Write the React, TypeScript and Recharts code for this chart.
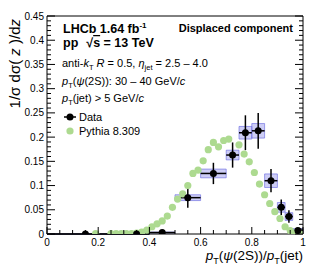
import React from "react";
import {
  ComposedChart,
  XAxis,
  YAxis,
  Scatter,
  ErrorBar,
  ReferenceArea,
} from "recharts";

// ---- Data ----
const dataX = [0.15, 0.35, 0.45, 0.55, 0.65, 0.725, 0.775, 0.825, 0.875, 0.915, 0.945, 0.98];
const binLo = [0.0, 0.3, 0.4, 0.5, 0.6, 0.7, 0.75, 0.8, 0.85, 0.9, 0.93, 0.96];
const binHi = [0.3, 0.4, 0.5, 0.6, 0.7, 0.75, 0.8, 0.85, 0.9, 0.93, 0.96, 1.0];
const dataY = [0.0, 0.0, 0.003, 0.075, 0.125, 0.163, 0.209, 0.213, 0.11, 0.055, 0.036, 0.007];
const statErr = [0.0, 0.0, 0.002, 0.021, 0.022, 0.026, 0.036, 0.037, 0.024, 0.016, 0.013, 0.005];
const sysErr = [0.0005, 0.0005, 0.001, 0.006, 0.009, 0.01, 0.013, 0.015, 0.014, 0.01, 0.008, 0.004];

const pythiaX = [
  0.19, 0.25, 0.27, 0.29, 0.31, 0.33, 0.35, 0.37, 0.39, 0.41, 0.43, 0.45, 0.47, 0.49, 0.51,
  0.53, 0.55, 0.57, 0.59, 0.61, 0.63, 0.65, 0.67, 0.69, 0.71, 0.75, 0.77, 0.79, 0.81, 0.83,
  0.85, 0.87, 0.89, 0.91, 0.93, 0.95, 0.97, 0.99,
];
const pythiaY = [
  0.001, 0.001, 0.001, 0.001, 0.001, 0.001, 0.002, 0.004, 0.008, 0.015, 0.021, 0.027, 0.037,
  0.055, 0.072, 0.083, 0.1, 0.125, 0.132, 0.151, 0.174, 0.189, 0.18, 0.193, 0.196, 0.184,
  0.165, 0.149, 0.127, 0.103, 0.081, 0.063, 0.046, 0.032, 0.015, 0.007, 0.002, 0.0,
];

const xMajorTicks = [0, 0.2, 0.4, 0.6, 0.8, 1];
const xTickLabels = ["0", "0.2", "0.4", "0.6", "0.8", "1"];
const yMajorTicks = [0, 0.05, 0.1, 0.15, 0.2, 0.25, 0.3, 0.35, 0.4, 0.45];
const yTickLabels = ["0", "0.05", "0.1", "0.15", "0.2", "0.25", "0.3", "0.35", "0.4", "0.45"];

const xAllTicks = Array.from({ length: 21 }, (_, i) => i / 20);
const yAllTicks = Array.from({ length: 46 }, (_, i) => i / 100);

const dataPts = dataX.map((x, i) => ({
  x,
  y: dataY[i],
  ey: statErr[i],
  ex: [x - binLo[i], binHi[i] - x],
}));
const pythiaPts = pythiaX.map((x, i) => ({ x, y: pythiaY[i] }));

const FONT = "'Liberation Sans', Arial, Helvetica, sans-serif";
const GREEN = "#addA90";

const findMajor = (v: number, majors: number[]) =>
  majors.findIndex((m) => Math.abs(m - v) < 1e-6);

const BottomTick = (props: any) => {
  const { x, y, payload } = props;
  const idx = findMajor(payload.value, xMajorTicks);
  const major = idx >= 0;
  return (
    <g>
      <line x1={x} x2={x} y1={y} y2={y - (major ? 7 : 4)} stroke="#000" strokeWidth={1} />
      {major && (
        <text x={x} y={y + 12} textAnchor="middle" fontSize={10} fontFamily={FONT} fill="#000">
          {xTickLabels[idx]}
        </text>
      )}
    </g>
  );
};

const TopTick = (props: any) => {
  const { x, y, payload } = props;
  const major = findMajor(payload.value, xMajorTicks) >= 0;
  return <line x1={x} x2={x} y1={y} y2={y + (major ? 7 : 4)} stroke="#000" strokeWidth={1} />;
};

const LeftTick = (props: any) => {
  const { x, y, payload } = props;
  const idx = findMajor(payload.value, yMajorTicks);
  const major = idx >= 0;
  return (
    <g>
      <line x1={x} x2={x + (major ? 8 : 4)} y1={y} y2={y} stroke="#000" strokeWidth={1} />
      {major && (
        <text x={x - 3} y={y + 3.5} textAnchor="end" fontSize={10} fontFamily={FONT} fill="#000">
          {yTickLabels[idx]}
        </text>
      )}
    </g>
  );
};

const RightTick = (props: any) => {
  const { x, y, payload } = props;
  const major = findMajor(payload.value, yMajorTicks) >= 0;
  return <line x1={x} x2={x - (major ? 8 : 4)} y1={y} y2={y} stroke="#000" strokeWidth={1} />;
};

const DataDot = (props: any) => {
  const { cx, cy } = props;
  return <circle cx={cx} cy={cy} r={3.5} fill="#000" />;
};
const PythiaDot = (props: any) => {
  const { cx, cy } = props;
  return <circle cx={cx} cy={cy} r={3.6} fill={GREEN} />;
};

const Overlay = () => (
  <svg
    width={315}
    height={276}
    style={{ position: "absolute", left: 0, top: 0, pointerEvents: "none" }}
    fontFamily={FONT}
  >
    <text x={63} y={33} fontSize={12.5} fontWeight="bold" fill="#000">
      LHCb 1.64 fb
      <tspan fontSize={8} dy={-5}>-1</tspan>
    </text>
    <text x={63} y={47} fontSize={12.5} fontWeight="bold" fill="#000">
      pp
      <tspan dx={8}>√</tspan>
      <tspan style={{ textDecoration: "overline" }}>s</tspan>
      <tspan> = 13 TeV</tspan>
    </text>
    <text x={293} y={32} fontSize={11} fontWeight="bold" fill="#000" textAnchor="end">
      Displaced component
    </text>
    <text x={62} y={67} fontSize={11} fill="#000">
      anti-<tspan fontStyle="italic">k</tspan>
      <tspan fontSize={7.5} dy={3}>T</tspan>
      <tspan dy={-3}> </tspan>
      <tspan fontStyle="italic">R</tspan> = 0.5,{" "}
      <tspan fontStyle="italic">η</tspan>
      <tspan fontSize={7.5} dy={3}>jet</tspan>
      <tspan dy={-3}> = 2.5 – 4.0</tspan>
    </text>
    <text x={62} y={85} fontSize={11} fill="#000">
      <tspan fontStyle="italic">p</tspan>
      <tspan fontSize={7.5} dy={3}>T</tspan>
      <tspan dy={-3}>(</tspan>
      <tspan fontStyle="italic">ψ</tspan>
      <tspan>(2S)): 30 – 40 GeV/</tspan>
      <tspan fontStyle="italic">c</tspan>
    </text>
    <text x={62} y={102} fontSize={11} fill="#000">
      <tspan fontStyle="italic">p</tspan>
      <tspan fontSize={7.5} dy={3}>T</tspan>
      <tspan dy={-3}>(jet) &gt; 5 GeV/</tspan>
      <tspan fontStyle="italic">c</tspan>
    </text>
    {/* legend */}
    <line x1={64} x2={76} y1={117} y2={117} stroke="#000" strokeWidth={1.5} />
    <circle cx={70} cy={117} r={3.5} fill="#000" />
    <text x={79} y={121} fontSize={11} fill="#000">Data</text>
    <circle cx={70} cy={131} r={3.6} fill={GREEN} />
    <text x={79} y={135} fontSize={11} fill="#000">Pythia 8.309</text>
    {/* axis titles */}
    <text x={303} y={260} fontSize={13.5} fill="#000" textAnchor="end">
      <tspan fontStyle="italic">p</tspan>
      <tspan fontSize={9} dy={4}>T</tspan>
      <tspan dy={-4}>(</tspan>
      <tspan fontStyle="italic">ψ</tspan>
      <tspan>(2S))/</tspan>
      <tspan fontStyle="italic">p</tspan>
      <tspan fontSize={9} dy={4}>T</tspan>
      <tspan dy={-4}>(jet)</tspan>
    </text>
    <text
      transform="translate(20, 19) rotate(-90)"
      fontSize={15}
      fill="#000"
      textAnchor="end"
    >
      1/σ dσ( <tspan fontStyle="italic">z</tspan> )/d<tspan fontStyle="italic">z</tspan>
    </text>
  </svg>
);

export default function App() {
  return (
    <div style={{ position: "absolute", left: 0, top: 0, width: 315, height: 276, background: "#fff" }}>
      <ComposedChart width={315} height={276} margin={{ top: 0, right: 0, bottom: 0, left: 0 }}>
        <XAxis
          xAxisId={0}
          type="number"
          dataKey="x"
          domain={[0, 1]}
          ticks={xAllTicks}
          interval={0}
          height={42}
          tickSize={0}
          tickMargin={0}
          tickLine={false}
          axisLine={{ stroke: "#000", strokeWidth: 1 }}
          tick={<BottomTick />}
          allowDataOverflow
        />
        <XAxis
          xAxisId="top"
          orientation="top"
          type="number"
          domain={[0, 1]}
          ticks={xAllTicks}
          interval={0}
          height={16}
          tickSize={0}
          tickMargin={0}
          tickLine={false}
          axisLine={{ stroke: "#000", strokeWidth: 1 }}
          tick={<TopTick />}
          allowDataOverflow
        />
        <YAxis
          yAxisId={0}
          type="number"
          dataKey="y"
          domain={[0, 0.45]}
          ticks={yAllTicks}
          interval={0}
          width={47}
          tickSize={0}
          tickMargin={0}
          tickLine={false}
          axisLine={{ stroke: "#000", strokeWidth: 1 }}
          tick={<LeftTick />}
          allowDataOverflow
        />
        <YAxis
          yAxisId="right"
          orientation="right"
          type="number"
          domain={[0, 0.45]}
          ticks={yAllTicks}
          interval={0}
          width={12}
          tickSize={0}
          tickMargin={0}
          tickLine={false}
          axisLine={{ stroke: "#000", strokeWidth: 1 }}
          tick={<RightTick />}
          allowDataOverflow
        />
        {dataX.map((x, i) => (
          <ReferenceArea
            key={"sys" + i}
            xAxisId={0}
            yAxisId={0}
            x1={binLo[i]}
            x2={binHi[i]}
            y1={dataY[i] - sysErr[i]}
            y2={dataY[i] + sysErr[i]}
            fill="rgba(100,100,225,0.32)"
            fillOpacity={1}
            stroke="rgba(100,100,225,0.6)"
            strokeWidth={1}
            ifOverflow="visible"
          />
        ))}
        <Scatter
          xAxisId={0}
          yAxisId={0}
          data={pythiaPts}
          dataKey="y"
          shape={<PythiaDot />}
          isAnimationActive={false}
        />
        <Scatter
          xAxisId={0}
          yAxisId={0}
          data={dataPts}
          dataKey="y"
          shape={<DataDot />}
          isAnimationActive={false}
        >
          <ErrorBar dataKey="ey" direction="y" width={0} stroke="#000" strokeWidth={1.5} isAnimationActive={false} />
          <ErrorBar dataKey="ex" direction="x" width={0} stroke="#000" strokeWidth={1.5} isAnimationActive={false} />
        </Scatter>
      </ComposedChart>
      <Overlay />
    </div>
  );
}
